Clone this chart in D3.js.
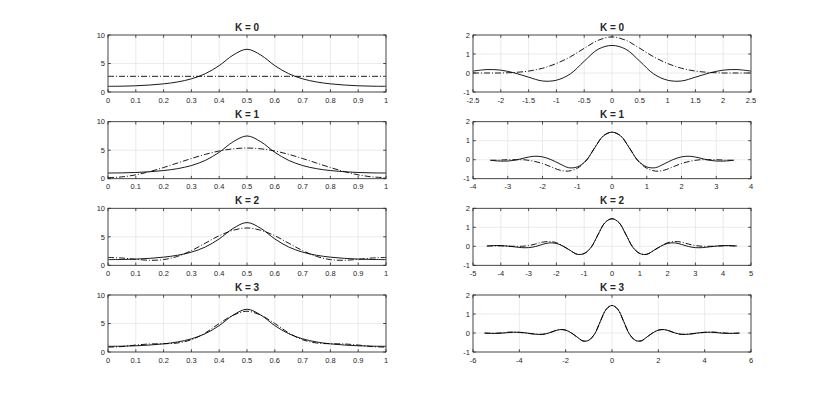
<!DOCTYPE html>
<html>
<head>
<meta charset="utf-8">
<script src="https://cdn.jsdelivr.net/npm/d3@7"></script>
<style>
  body { margin: 0; background: #fff; }
  text { font-family: "Liberation Sans", Arial, sans-serif; fill: #262626; }
</style>
</head>
<body>
<div id="chart"></div>
<script>
// ---- data ----
var titles = ["K = 0", "K = 1", "K = 2", "K = 3"];

// left column: x in [0,1]
var leftX = [0,0.05,0.1,0.15,0.2,0.25,0.3,0.35,0.4,0.45,0.5,0.55,0.6,0.65,0.7,0.75,0.8,0.85,0.9,0.95,1];
var leftSolid = [1.00,1.02,1.09,1.22,1.43,1.76,2.31,3.21,4.63,6.47,7.50,6.47,4.63,3.21,2.31,1.76,1.43,1.22,1.09,1.02,1.00];
var leftK0 = [2.75,2.75,2.75,2.75,2.75,2.75,2.75,2.75,2.75,2.75,2.75,2.75,2.75,2.75,2.75,2.75,2.75,2.75,2.75,2.75,2.75];
var leftK1 = [0.19,0.32,0.68,1.25,1.96,2.75,3.54,4.27,4.86,5.24,5.38,5.24,4.86,4.27,3.54,2.75,1.96,1.25,0.68,0.32,0.19];
var leftK2 = [1.38,1.28,1.05,0.88,1.00,1.56,2.58,3.88,5.19,6.14,6.55,6.14,5.19,3.88,2.58,1.56,1.00,0.88,1.05,1.28,1.38];
var leftK3 = [0.85,0.95,1.22,1.41,1.45,1.58,2.15,3.35,5.00,6.45,7.15,6.45,5.00,3.35,2.15,1.58,1.45,1.41,1.22,0.95,0.85];
var leftXTicks = [0,0.1,0.2,0.3,0.4,0.5,0.6,0.7,0.8,0.9,1];
var leftYTicks = [0,5,10];

// right column: x from -5.5 to 5.5, each panel uses |x| <= its span
var rightX = [-5.5,-5.25,-5,-4.75,-4.5,-4.25,-4,-3.75,-3.5,-3.25,-3,-2.75,-2.5,-2.25,-2,-1.75,-1.5,-1.25,-1,-0.75,-0.5,-0.25,
              0,0.25,0.5,0.75,1,1.25,1.5,1.75,2,2.25,2.5,2.75,3,3.25,3.5,3.75,4,4.25,4.5,4.75,5,5.25,5.5];
var rightSolid = [-0.01,-0.02,-0.02,-0.01,0.02,0.04,0.04,0.01,-0.03,-0.07,-0.07,-0.01,0.10,0.18,0.15,0.00,-0.22,-0.42,-0.38,-0.05,0.62,1.25,
                  1.45,1.25,0.62,-0.05,-0.38,-0.42,-0.22,0.00,0.15,0.18,0.10,-0.01,-0.07,-0.07,-0.03,0.01,0.04,0.04,0.02,-0.01,-0.02,-0.02,-0.01];
var rightSpan = [2.5, 3.5, 4.5, 5.5];
var rightK0 = [0,0,0,0.03,0.10,0.25,0.50,0.85,1.30,1.72,1.90,1.72,1.30,0.85,0.50,0.25,0.10,0.03,0,0,0];
var rightK1 = [-0.03,-0.02,0.00,0.00,-0.01,-0.08,-0.20,-0.38,-0.55,-0.60,-0.45,-0.07,0.62,1.25,
               1.45,1.25,0.62,-0.07,-0.45,-0.60,-0.55,-0.38,-0.20,-0.08,-0.01,0.00,0.00,-0.02,-0.03];
var rightK2 = [0.01,0.02,0.02,0.01,0.00,0.00,0.04,0.12,0.22,0.25,0.19,0.00,-0.22,-0.42,-0.38,-0.05,0.62,1.25,
               1.45,1.25,0.62,-0.05,-0.38,-0.42,-0.22,0.00,0.19,0.25,0.22,0.12,0.04,0.00,0.00,0.01,0.02,0.02,0.01];
var rightK3 = [0.00,-0.01,-0.01,0.01,0.04,0.05,0.03,0.00,-0.04,-0.06,-0.07,-0.01,0.10,0.18,0.15,0.00,-0.22,-0.42,-0.38,-0.05,0.62,1.25,
               1.45,1.25,0.62,-0.05,-0.38,-0.42,-0.22,0.00,0.15,0.18,0.10,-0.01,-0.07,-0.06,-0.04,0.00,0.03,0.05,0.04,0.01,-0.01,-0.01,0.00];
var rightXDomains = [[-2.5,2.5],[-4,4],[-5,5],[-6,6]];
var rightXTicks = [
  [-2.5,-2,-1.5,-1,-0.5,0,0.5,1,1.5,2,2.5],
  [-4,-3,-2,-1,0,1,2,3,4],
  [-5,-4,-3,-2,-1,0,1,2,3,4,5],
  [-6,-4,-2,0,2,4,6]
];
var rightYTicks = [-1,0,1,2];

var leftDash = [leftK0, leftK1, leftK2, leftK3];
var rightDash = [rightK0, rightK1, rightK2, rightK3];

// ---- layout ----
var W = 830, H = 396;
var colX = [[108, 386], [473, 751]];
var rowTop = [35, 121.7, 208.3, 295];
var rowH = 57;
var tickLen = 2.8;

var svg = d3.select("#chart").append("svg")
    .attr("width", W)
    .attr("height", H);

function drawPanel(col, row, xs, solid, dash, xDomain, xTicks, yDomain, yTicks) {
    var x0 = colX[col][0], x1 = colX[col][1];
    var y0 = rowTop[row], y1 = rowTop[row] + rowH;

    var x = d3.scaleLinear().domain(xDomain).range([x0, x1]);
    var y = d3.scaleLinear().domain(yDomain).range([y1, y0]);

    var g = svg.append("g");

    // grid
    g.selectAll(".gx").data(xTicks).enter().append("line")
        .attr("x1", function(d) { return x(d); })
        .attr("x2", function(d) { return x(d); })
        .attr("y1", y0).attr("y2", y1)
        .attr("stroke", "#e3e3e3").attr("stroke-width", 0.7);
    g.selectAll(".gy").data(yTicks).enter().append("line")
        .attr("y1", function(d) { return y(d); })
        .attr("y2", function(d) { return y(d); })
        .attr("x1", x0).attr("x2", x1)
        .attr("stroke", "#e3e3e3").attr("stroke-width", 0.7);

    var line = d3.line()
        .x(function(d) { return x(d[0]); })
        .y(function(d) { return y(d[1]); })
        .curve(d3.curveCatmullRom.alpha(0.5));

    // solid
    g.append("path")
        .datum(xs.map(function(v, i) { return [v, solid[i]]; }))
        .attr("fill", "none")
        .attr("stroke", "#000")
        .attr("stroke-width", 0.9)
        .attr("d", line);

    // dash-dot
    g.append("path")
        .datum(xs.map(function(v, i) { return [v, dash[i]]; }))
        .attr("fill", "none")
        .attr("stroke", "#000")
        .attr("stroke-width", 0.9)
        .attr("stroke-dasharray", "6,2,1,2")
        .attr("d", line);

    // axes box
    g.append("rect")
        .attr("x", x0).attr("y", y0)
        .attr("width", x1 - x0).attr("height", y1 - y0)
        .attr("fill", "none")
        .attr("stroke", "#262626")
        .attr("stroke-width", 0.8);

    // ticks (inward, mirrored on all sides)
    xTicks.forEach(function(t) {
        g.append("line").attr("x1", x(t)).attr("x2", x(t)).attr("y1", y1).attr("y2", y1 - tickLen)
            .attr("stroke", "#262626").attr("stroke-width", 0.8);
        g.append("line").attr("x1", x(t)).attr("x2", x(t)).attr("y1", y0).attr("y2", y0 + tickLen)
            .attr("stroke", "#262626").attr("stroke-width", 0.8);
    });
    yTicks.forEach(function(t) {
        g.append("line").attr("y1", y(t)).attr("y2", y(t)).attr("x1", x0).attr("x2", x0 + tickLen)
            .attr("stroke", "#262626").attr("stroke-width", 0.8);
        g.append("line").attr("y1", y(t)).attr("y2", y(t)).attr("x1", x1).attr("x2", x1 - tickLen)
            .attr("stroke", "#262626").attr("stroke-width", 0.8);
    });

    // tick labels
    g.selectAll(".lx").data(xTicks).enter().append("text")
        .attr("x", function(d) { return x(d); })
        .attr("y", y1 + 10.5)
        .attr("text-anchor", "middle")
        .attr("font-size", "7.5px")
        .text(function(d) { return String(d); });
    g.selectAll(".ly").data(yTicks).enter().append("text")
        .attr("x", x0 - 3)
        .attr("y", function(d) { return y(d) + 2.7; })
        .attr("text-anchor", "end")
        .attr("font-size", "7.5px")
        .text(function(d) { return String(d); });

    // title
    g.append("text")
        .attr("x", (x0 + x1) / 2)
        .attr("y", y0 - 4)
        .attr("text-anchor", "middle")
        .attr("font-size", "10px")
        .attr("font-weight", "bold")
        .attr("fill", "#000")
        .text(titles[row]);
}

for (var k = 0; k < 4; k++) {
    drawPanel(0, k, leftX, leftSolid, leftDash[k], [0, 1], leftXTicks, [0, 10], leftYTicks);

    var span = rightSpan[k];
    var idx = [];
    rightX.forEach(function(v, i) { if (Math.abs(v) <= span + 1e-9) idx.push(i); });
    var xs = idx.map(function(i) { return rightX[i]; });
    var ss = idx.map(function(i) { return rightSolid[i]; });
    drawPanel(1, k, xs, ss, rightDash[k], rightXDomains[k], rightXTicks[k], [-1, 2], rightYTicks);
}
</script>
</body>
</html>
